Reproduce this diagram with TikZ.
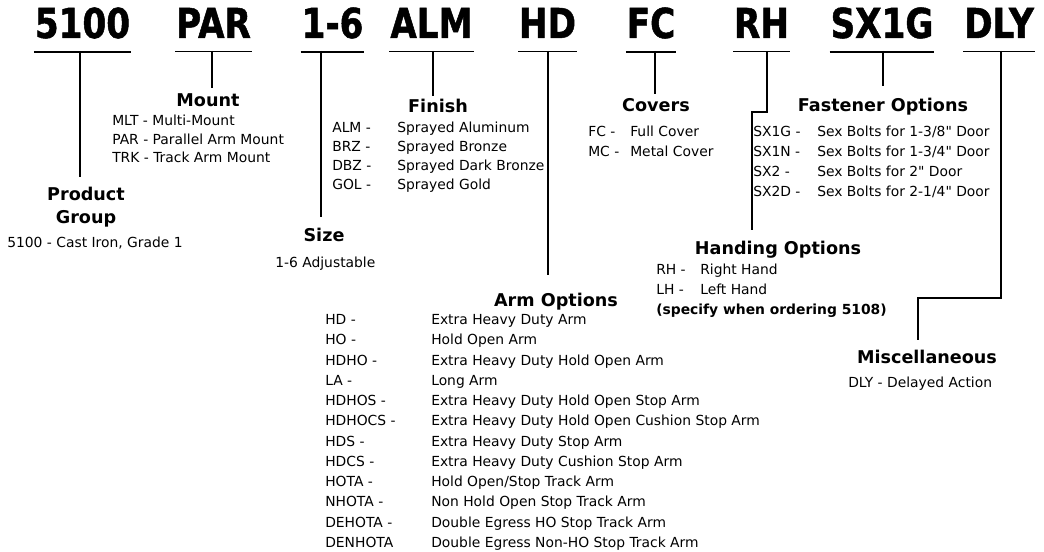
\documentclass[tikz,border=0pt]{standalone}
\usepackage{fontspec}
\setmainfont{DejaVu Sans}
\newfontfamily\plainfont{DejaVu Sans}
\newfontfamily\codefont{DejaVu Sans}[FakeStretch=0.83,FakeBold=1.2]
\usepackage{array}
\tikzset{
  code/.style={font=\codefont\bfseries\fontsize{30.9}{36}\selectfont, anchor=base, inner xsep=0.5pt, inner ysep=9.75pt},
  head/.style={font=\bfseries\fontsize{13.2}{17.25}\selectfont, anchor=base, inner xsep=0pt},
  lst/.style={anchor=base west, inner sep=0pt},
  ln/.style={line width=1.1pt},
}
\begin{document}
\begin{tikzpicture}[x=0.75pt,y=-0.75pt]
\useasboundingbox (0,0) rectangle (1044,552);

% header codes
\node[code] (c5100) at (82.5,38) {5100};
\node[code] (cPAR) at (213.5,38) {PAR};
\node[code] (c16) at (332.5,38) {1-6};
\node[code] (cALM) at (431.5,38) {ALM};
\node[code] (cHD) at (547.5,38) {HD};
\node[code] (cFC) at (651,38) {FC};
\node[code] (cRH) at (761.5,38) {RH};
\node[code] (cSX) at (882,38) {SX1G};
\node[code] (cDLY) at (999,38) {DLY};

\foreach \c in {c5100,cPAR,c16,cALM,cHD,cFC,cRH,cSX,cDLY}
  \draw[ln] (\c.south west) -- (\c.south east);

% junctions on the underlines
\coordinate (j5100) at (80,51);
\coordinate (jPAR) at (212,51);
\coordinate (j16) at (321,51);
\coordinate (jALM) at (433,51);
\coordinate (jHD) at (548,51);
\coordinate (jFC) at (655,51);
\coordinate (jRH) at (767,51);
\coordinate (jSX) at (883,51);
\coordinate (jDLY) at (1001,51);
\coordinate (rhTurn) at (752,112);
\coordinate (dlyTurn) at (918,298);

% headings
\node[head, anchor=center, align=center, inner ysep=7.8pt] (pg) at (86,207.5) {Product\\Group};
\node[head, inner ysep=4.1pt] (mount) at (208,106.4) {Mount};
\node[head, inner ysep=8pt] (size) at (324,241.4) {Size};
\node[head, inner ysep=2.3pt] (finish) at (438,112.4) {Finish};
\node[head, inner ysep=13pt] (arm) at (556,306.4) {Arm Options};
\node[head, inner ysep=2.7pt] (covers) at (656,111.4) {Covers};
\node[head, inner ysep=8.3pt] (hand) at (778,254.4) {Handing Options};
\node[head, inner ysep=8.7pt] (fast) at (883,111.4) {Fastener Options};
\node[head, inner ysep=7.5pt] (misc) at (927,363.4) {Miscellaneous};

% connectors
\draw[ln] (j5100) -- (j5100 |- pg.north);
\draw[ln] (jPAR) -- (jPAR |- mount.north);
\draw[ln] (j16) -- (j16 |- size.north);
\draw[ln] (jALM) -- (jALM |- finish.north);
\draw[ln] (jHD) -- (jHD |- arm.north);
\draw[ln] (jFC) -- (jFC |- covers.north);
\draw[ln] (jRH) -- (jRH |- rhTurn) -- (rhTurn) -- (rhTurn |- hand.north);
\draw[ln] (jSX) -- (jSX |- fast.north);
\draw[ln] (jDLY) -- (jDLY |- dlyTurn) -- (dlyTurn) -- (dlyTurn |- misc.north);

% lists
\node[lst] (pgL) at (7,247.5) {\fontsize{10.4}{14.6}\selectfont 5100 - Cast Iron, Grade 1};
\node[lst] (sizeL) at (275,267.5) {\fontsize{10.4}{14.6}\selectfont 1-6 Adjustable};
\node[lst] (mountL) at (112,125.5) {\fontsize{10.4}{13.9}\selectfont
  \begin{tabular}[t]{@{}l@{}}MLT - Multi-Mount\\PAR - Parallel Arm Mount\\TRK - Track Arm Mount\end{tabular}};
\node[lst] (finishL) at (332,132.5) {\fontsize{10.4}{14.25}\selectfont
  \begin{tabular}[t]{@{}p{48.75pt}@{}l@{}}ALM - & Sprayed Aluminum\\BRZ - & Sprayed Bronze\\DBZ - & Sprayed Dark Bronze\\GOL - & Sprayed Gold\end{tabular}};
\node[lst] (coversL) at (588,136.5) {\fontsize{10.4}{15}\selectfont
  \begin{tabular}[t]{@{}p{31.5pt}@{}l@{}}FC - & Full Cover\\MC - & Metal Cover\end{tabular}};
\node[lst] (fastL) at (753,136.5) {\plainfont\fontsize{10.4}{15}\selectfont
  \begin{tabular}[t]{@{}p{48pt}@{}l@{}}SX1G - & Sex Bolts for 1-3/8" Door\\SX1N - & Sex Bolts for 1-3/4" Door\\SX2 - & Sex Bolts for 2" Door\\SX2D - & Sex Bolts for 2-1/4" Door\end{tabular}};
\node[lst] (handL) at (656,274.5) {\fontsize{10.4}{15}\selectfont
  \begin{tabular}[t]{@{}p{33pt}@{}l@{}}RH - & Right Hand\\LH - & Left Hand\\\multicolumn{2}{@{}l@{}}{\bfseries (specify when ordering 5108)}\end{tabular}};
\node[lst] (miscL) at (848,387.5) {\fontsize{10.4}{14.6}\selectfont DLY - Delayed Action};
\node[lst] (armL) at (325,324.5) {\fontsize{10.4}{15.2}\selectfont
  \begin{tabular}[t]{@{}p{79.5pt}@{}l@{}}
  HD - & Extra Heavy Duty Arm\\
  HO - & Hold Open Arm\\
  HDHO - & Extra Heavy Duty Hold Open Arm\\
  LA - & Long Arm\\
  HDHOS - & Extra Heavy Duty Hold Open Stop Arm\\
  HDHOCS - & Extra Heavy Duty Hold Open Cushion Stop Arm\\
  HDS - & Extra Heavy Duty Stop Arm\\
  HDCS - & Extra Heavy Duty Cushion Stop Arm\\
  HOTA - & Hold Open/Stop Track Arm\\
  NHOTA - & Non Hold Open Stop Track Arm\\
  DEHOTA - & Double Egress HO Stop Track Arm\\
  DENHOTA & Double Egress Non-HO Stop Track Arm
  \end{tabular}};
\end{tikzpicture}
\end{document}
